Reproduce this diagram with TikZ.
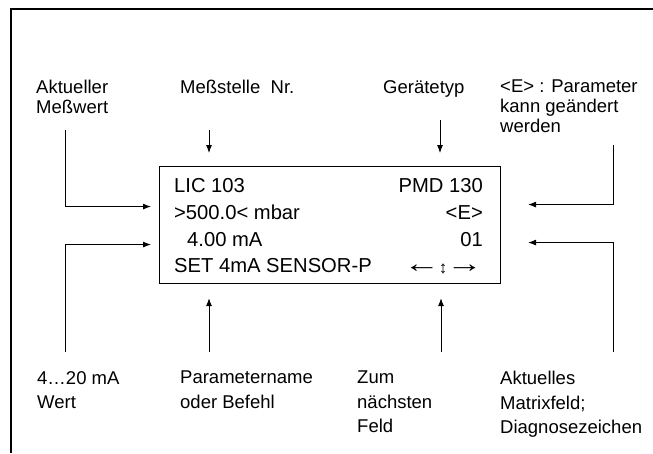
\documentclass[tikz,border=0pt]{standalone}
\usepackage{fontspec}
\setmainfont{Liberation Sans}
\usetikzlibrary{arrows.meta}
\begin{document}
\begin{tikzpicture}[x=1pt,y=-1pt,
  lab/.style={font=\fontsize{18.5}{24.5}\selectfont, align=left, inner sep=0pt, anchor=north west},
  labtop/.style={lab, font=\fontsize{18.5}{20}\selectfont},
  disp/.style={font=\fontsize{20.2}{27}\selectfont, inner sep=0pt},
  arr/.style={line width=0.9pt, -{Latex[length=8pt,width=6pt]}},
]
\useasboundingbox (0,0) rectangle (653,453);
\draw[line width=1.3pt] (11,453) -- (11,9) -- (653,9);
\node[draw, line width=1.1pt, minimum width=341pt, minimum height=117pt, anchor=north west, inner sep=0pt] (box) at (159,166) {};
% display text
\node[disp, anchor=base west] (t1) at (174,192) {LIC 103};
\node[disp, anchor=base east] (t1r) at (483,192) {PMD 130};
\node[disp, anchor=base west] (t2) at (174,219) {>500.0< mbar};
\node[disp, anchor=base east] (t2r) at (483,219) {<E>};
\node[disp, anchor=base west] (t3) at (187,246) {4.00 mA};
\node[disp, anchor=base east] (t3r) at (483,246) {01};
\node[disp, anchor=base west] (t4) at (174,272) {SET 4mA SENSOR-P};
\node[disp, anchor=base east] (t4r) at (483,272) {\scalebox{1.8}[1.3]{←}\kern-1pt\raisebox{-1pt}{\fontsize{17}{17}\selectfont↕}\kern-1pt\scalebox{1.8}[1.3]{→}};
% labels
\node[labtop] (l1) at (36,80) {Aktueller\\Meßwert};
\node[labtop] (l2) at (180,80) {Meßstelle\ \ Nr.};
\node[labtop] (l3) at (383,80) {Gerätetyp};
\node[labtop] (l4) at (500,80) {<E> : Parameter\\kann geändert\\werden};
\node[lab] (l5) at (37,371) {4…20 mA\\Wert};
\node[lab] (l6) at (180,371) {Parametername\\oder Befehl};
\node[lab] (l7) at (357,371) {Zum\\nächsten\\Feld};
\node[lab] (l8) at (500,371) {Aktuelles\\Matrixfeld;\\Diagnosezeichen};
% connectors
\coordinate (c1) at (65,130);
\coordinate (c2) at (65,352);
\coordinate (c3) at (209,130);
\coordinate (c4) at (440,120);
\coordinate (c5) at (613,145);
\coordinate (c6) at (613,352);
\coordinate (c7) at (209,352);
\coordinate (c8) at (441,352);
\draw[arr, shorten >=8pt] (c1) |- ([yshift=18.5pt]box.west);
\draw[arr, shorten >=8pt] (c2) |- ([yshift=-19.5pt]box.west);
\draw[arr, shorten >=13pt] (c3) -- (c3 |- box.north);
\draw[arr, shorten >=13pt] (c4) -- (c4 |- box.north);
\draw[arr, shorten >=27pt] (c5) |- ([yshift=20.5pt]box.east);
\draw[arr, shorten >=27pt] (c6) |- ([yshift=-17.5pt]box.east);
\draw[arr, shorten >=14pt] (c7) -- (c7 |- box.south);
\draw[arr, shorten >=14pt] (c8) -- (c8 |- box.south);
\end{tikzpicture}
\end{document}
